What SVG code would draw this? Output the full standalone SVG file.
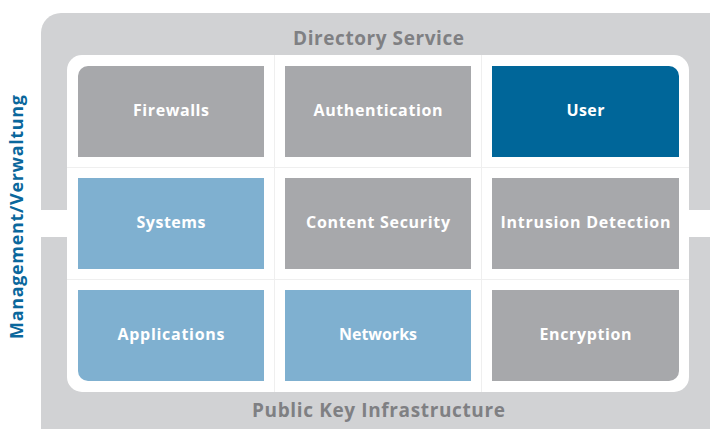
<svg xmlns="http://www.w3.org/2000/svg" width="710" height="429" viewBox="0 0 710 429">
<style>
.cell-gray{fill:#a7a8ab}
.cell-light{fill:#7fb0d0}
.cell-dark{fill:#006699}
.lbl{font-family:"Open Sans","Liberation Sans",sans-serif;font-weight:bold;font-size:16px;fill:#ffffff;text-anchor:middle}
.title{font-family:"Open Sans","Liberation Sans",sans-serif;font-weight:bold;font-size:19px;fill:#7f8083;text-anchor:middle}
.side{font-family:"Open Sans","Liberation Sans",sans-serif;font-weight:bold;font-size:18px;fill:#0a679c;text-anchor:middle}
.guide{stroke:#efefef;stroke-width:1;fill:none}
</style>
<rect width="710" height="429" fill="#ffffff"/>
<g id="frame">
<rect x="41" y="13" width="690" height="440" rx="20" fill="#d1d2d4"/>
<rect x="0" y="210" width="710" height="27" fill="#ffffff"/>
<rect x="67" y="55" width="622" height="337" rx="15" fill="#ffffff"/>
</g>
<g id="guides">
<line class="guide" x1="67" y1="167.5" x2="689" y2="167.5"/>
<line class="guide" x1="67" y1="279.5" x2="689" y2="279.5"/>
<line class="guide" x1="274.5" y1="55" x2="274.5" y2="392"/>
<line class="guide" x1="481.5" y1="55" x2="481.5" y2="392"/>
</g>
<g id="titles">
<text class="title" x="378.5" y="45" textLength="171" lengthAdjust="spacing">Directory Service</text>
<text class="title" x="378.5" y="417" textLength="253" lengthAdjust="spacing">Public Key Infrastructure</text>
<text class="side" transform="translate(23,217) rotate(-90)" textLength="244" lengthAdjust="spacing">Management/Verwaltung</text>
</g>
<g id="firewalls">
<path class="cell-gray" d="M88,66 H264 V157 H78 V76 A10,10 0 0 1 88,66 Z"/>
<text class="lbl" x="171" y="116" textLength="76" lengthAdjust="spacing">Firewalls</text>
</g>
<g id="authentication">
<rect class="cell-gray" x="285" y="66" width="186" height="91"/>
<text class="lbl" x="378" y="116" textLength="129" lengthAdjust="spacing">Authentication</text>
</g>
<g id="user">
<path class="cell-dark" d="M492,66 H669 A10,10 0 0 1 679,76 V157 H492 Z"/>
<text class="lbl" x="585.5" y="116" textLength="38" lengthAdjust="spacing">User</text>
</g>
<g id="systems">
<rect class="cell-light" x="78" y="178" width="186" height="91"/>
<text class="lbl" x="171" y="228" textLength="69" lengthAdjust="spacing">Systems</text>
</g>
<g id="content-security">
<rect class="cell-gray" x="285" y="178" width="186" height="91"/>
<text class="lbl" x="378" y="228" textLength="144" lengthAdjust="spacing">Content Security</text>
</g>
<g id="intrusion-detection">
<rect class="cell-gray" x="492" y="178" width="187" height="91"/>
<text class="lbl" x="585.5" y="228" textLength="170" lengthAdjust="spacing">Intrusion Detection</text>
</g>
<g id="applications">
<path class="cell-light" d="M78,290 H264 V381 H88 A10,10 0 0 1 78,371 Z"/>
<text class="lbl" x="171" y="340" textLength="107" lengthAdjust="spacing">Applications</text>
</g>
<g id="networks">
<rect class="cell-light" x="285" y="290" width="186" height="91"/>
<text class="lbl" x="378" y="340" textLength="78" lengthAdjust="spacing">Networks</text>
</g>
<g id="encryption">
<path class="cell-gray" d="M492,290 H679 V371 A10,10 0 0 1 669,381 H492 Z"/>
<text class="lbl" x="585.5" y="340" textLength="92" lengthAdjust="spacing">Encryption</text>
</g>
<g id="connectors"></g>
</svg>
